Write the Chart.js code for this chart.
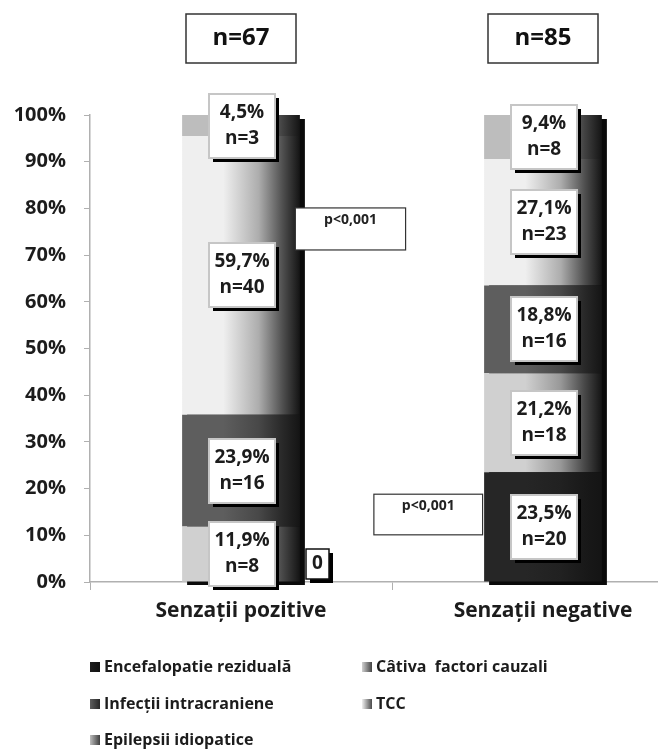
<!DOCTYPE html>
<html>
<head>
<meta charset="utf-8">
<script src="https://cdn.jsdelivr.net/npm/chart.js@4.4.1/dist/chart.umd.min.js"></script>
<style>
  html, body { margin: 0; padding: 0; background: #fff; overflow: hidden; }
  #wrap { position: absolute; left: 0; top: 0; width: 700px; height: 750px; }
</style>
</head>
<body>
<div id="wrap"><canvas id="c"></canvas></div>
<script>
// Categories and group sizes
const categories = ['Senzații pozitive', 'Senzații negative'];
const groupTotals = [67, 85];

// Series names (stack order, bottom to top)
const seriesNames = ['Encefalopatie reziduală', 'Câtiva  factori cauzali', 'Infecții intracraniene', 'TCC', 'Epilepsii idiopatice'];

// Percentages per series
const encefalopatiePct = [0, 23.5];
const cauzaliPct = [11.9, 21.2];
const infectiiPct = [23.9, 18.8];
const tccPct = [59.7, 27.1];
const epilepsiiPct = [4.5, 9.4];

// Patient counts per series
const encefalopatieN = [0, 20];
const cauzaliN = [8, 18];
const infectiiN = [16, 16];
const tccN = [40, 23];
const epilepsiiN = [3, 8];

// Y axis tick labels
const yTickLabels = ['0%', '10%', '20%', '30%', '40%', '50%', '60%', '70%', '80%', '90%', '100%'];

const pValueText = 'p<0,001';

const pctSeries = [encefalopatiePct, cauzaliPct, infectiiPct, tccPct, epilepsiiPct];
const countSeries = [encefalopatieN, cauzaliN, infectiiN, tccN, epilepsiiN];
const baseColors = ['#262626', '#d0d0d0', '#5e5e5e', '#efefef', '#bdbdbd'];

const FONT = '"Open Sans", Lato, sans-serif';
const BAR_FRACTION = 0.39;
const DARK = '#141414';

function hexToRgb(h) {
  const n = parseInt(h.slice(1), 16);
  return [(n >> 16) & 255, (n >> 8) & 255, n & 255];
}
function mix(a, b, t) {
  const A = hexToRgb(a), B = hexToRgb(b);
  const c = A.map((v, i) => Math.round(v + (B[i] - v) * t));
  return 'rgb(' + c.join(',') + ')';
}

function barHalfWidth(chart) {
  const xs = chart.scales.x;
  return xs.width / categories.length * BAR_FRACTION / 2;
}

// Horizontal gradient: series colour on the left fading to near black on the right
function segmentFill(ctx) {
  const chart = ctx.chart;
  const base = baseColors[ctx.datasetIndex];
  if (!chart.chartArea || !chart.scales.x) return base;
  const xs = chart.scales.x;
  const cx = xs.getPixelForValue(ctx.dataIndex);
  const h = barHalfWidth(chart);
  const g = chart.ctx.createLinearGradient(cx - h, 0, cx + h, 0);
  g.addColorStop(0, base);
  g.addColorStop(0.35, base);
  g.addColorStop(0.65, mix(base, DARK, 0.3));
  g.addColorStop(0.85, mix(base, DARK, 0.72));
  g.addColorStop(1, DARK);
  return g;
}

function formatPct(v) {
  return v.toFixed(1).replace('.', ',') + '%';
}

function boxWithShadow(c, x, y, w, h, border, lw, shadow) {
  c.fillStyle = '#000';
  c.fillRect(x + shadow, y + shadow, w, h);
  c.fillStyle = '#fff';
  c.fillRect(x, y, w, h);
  c.strokeStyle = border;
  c.lineWidth = lw;
  c.strokeRect(x, y, w, h);
}

const decorPlugin = {
  id: 'decor',
  beforeDatasetsDraw(chart) {
    // drop shadow behind each full stacked bar
    const c = chart.ctx;
    const ys = chart.scales.y, xs = chart.scales.x;
    const h = barHalfWidth(chart);
    c.save();
    categories.forEach((_, i) => {
      const total = pctSeries.reduce((s, arr) => s + arr[i], 0);
      const top = ys.getPixelForValue(total);
      const bottom = ys.getPixelForValue(0);
      const cx = xs.getPixelForValue(i);
      c.fillStyle = '#0a0a0a';
      c.fillRect(cx - h + 5, top + 4, 2 * h, bottom - top - 1);
    });
    c.restore();
  },
  afterDatasetsDraw(chart) {
    const c = chart.ctx;
    const ys = chart.scales.y, xs = chart.scales.x;
    c.save();
    c.textAlign = 'center';
    c.textBaseline = 'middle';
    chart.data.datasets.forEach((ds, d) => {
      const meta = chart.getDatasetMeta(d);
      meta.data.forEach((el, i) => {
        const v = ds.data[i];
        if (v > 0) {
          const cy = (el.y + el.base) / 2;
          const w = 66, hh = 64;
          const bx = Math.round(el.x - w / 2 + 1), by = Math.round(cy - hh / 2);
          boxWithShadow(c, bx, by, w, hh, '#c6c6c6', 2, 4);
          c.fillStyle = '#1c1c1c';
          c.font = 'bold 19px ' + FONT;
          c.fillText(formatPct(v), bx + w / 2, by + 19);
          c.fillText('n=' + countSeries[d][i], bx + w / 2, by + 45);
        } else {
          // empty segment: value shown beside the bar
          const bx = Math.round(el.x + el.width / 2 + 6);
          const cy = ys.getPixelForValue(3.8);
          const w = 23, hh = 30;
          const by = Math.round(cy - hh / 2);
          boxWithShadow(c, bx, by, w, hh, '#111', 1.5, 4);
          c.fillStyle = '#1c1c1c';
          c.font = 'bold 19px ' + FONT;
          c.fillText(String(countSeries[d][i]), bx + w / 2, by + hh / 2);
        }
      });
    });

    // group size headers
    categories.forEach((_, i) => {
      const cx = xs.getPixelForValue(i);
      const w = 110, hh = 49;
      const bx = Math.round(cx - w / 2), by = 14;
      c.fillStyle = '#fff';
      c.fillRect(bx, by, w, hh);
      c.strokeStyle = '#333';
      c.lineWidth = 1.5;
      c.strokeRect(bx, by, w, hh);
      c.fillStyle = '#111';
      c.font = 'bold 24px ' + FONT;
      c.fillText('n=' + groupTotals[i], cx, by + hh / 2);
    });

    // significance notes
    const notes = [
      { from: 0.18, to: 0.545, top: 80.1, bottom: 71.1 },
      { from: 0.44, to: 0.80, top: 18.8, bottom: 10.1 }
    ];
    notes.forEach(n => {
      const x0 = xs.getPixelForValue(n.from), x1 = xs.getPixelForValue(n.to);
      const y0 = ys.getPixelForValue(n.top), y1 = ys.getPixelForValue(n.bottom);
      c.fillStyle = '#fff';
      c.fillRect(x0, y0, x1 - x0, y1 - y0);
      c.strokeStyle = '#333';
      c.lineWidth = 1.2;
      c.strokeRect(x0, y0, x1 - x0, y1 - y0);
      c.fillStyle = '#222';
      c.font = 'bold 14px ' + FONT;
      c.fillText(pValueText, (x0 + x1) / 2, y0 + 12);
    });
    c.restore();
  },
  afterDraw(chart) {
    // legend in two columns
    const c = chart.ctx;
    const colX = [90, 362];
    const rowY = [667, 704, 740];
    c.save();
    c.textAlign = 'left';
    c.textBaseline = 'middle';
    c.font = 'bold 16px ' + FONT;
    chart.data.datasets.forEach((ds, k) => {
      const x = colX[k % 2], y = rowY[Math.floor(k / 2)];
      const base = baseColors[k];
      const g = c.createLinearGradient(x, 0, x + 10, 0);
      if (k === 0) {
        g.addColorStop(0, '#1e1e1e');
        g.addColorStop(1, '#111');
      } else {
        g.addColorStop(0, base);
        g.addColorStop(1, mix(base, DARK, 0.75));
      }
      c.fillStyle = g;
      c.fillRect(x, y - 5, 10, 10);
      c.fillStyle = '#1c1c1c';
      c.fillText(ds.label, x + 14, y);
    });
    c.restore();
  }
};

const datasets = seriesNames.map((name, k) => ({
  label: name,
  data: pctSeries[k],
  backgroundColor: segmentFill,
  borderWidth: 0,
  barPercentage: BAR_FRACTION,
  categoryPercentage: 1
}));

new Chart(document.getElementById('c'), {
  type: 'bar',
  data: { labels: categories, datasets },
  options: {
    responsive: true,
    maintainAspectRatio: false,
    devicePixelRatio: 1,
    animation: false,
    layout: { padding: { top: 115, right: 6, left: 0, bottom: 0 } },
    plugins: { legend: { display: false }, tooltip: { enabled: false } },
    scales: {
      x: {
        stacked: true,
        grid: { offset: true, drawOnChartArea: false, drawTicks: true, tickLength: 8, color: '#b0b0b0' },
        border: { color: '#b0b0b0', width: 1.5 },
        ticks: { color: '#1c1c1c', font: { family: FONT, size: 21, weight: 'bold' }, padding: 8 },
        afterFit(scale) { scale.height = 168; }
      },
      y: {
        stacked: true,
        min: 0, max: 100,
        grid: { drawOnChartArea: false, drawTicks: true, tickLength: 6, color: '#b0b0b0' },
        border: { color: '#b0b0b0', width: 1.5 },
        ticks: {
          stepSize: 10,
          color: '#1c1c1c',
          font: { family: FONT, size: 20, weight: 'bold' },
          padding: 18,
          callback: (v, i) => yTickLabels[i]
        },
        afterFit(scale) { scale.width = 90; }
      }
    }
  },
  plugins: [decorPlugin]
});
</script>
</body>
</html>
